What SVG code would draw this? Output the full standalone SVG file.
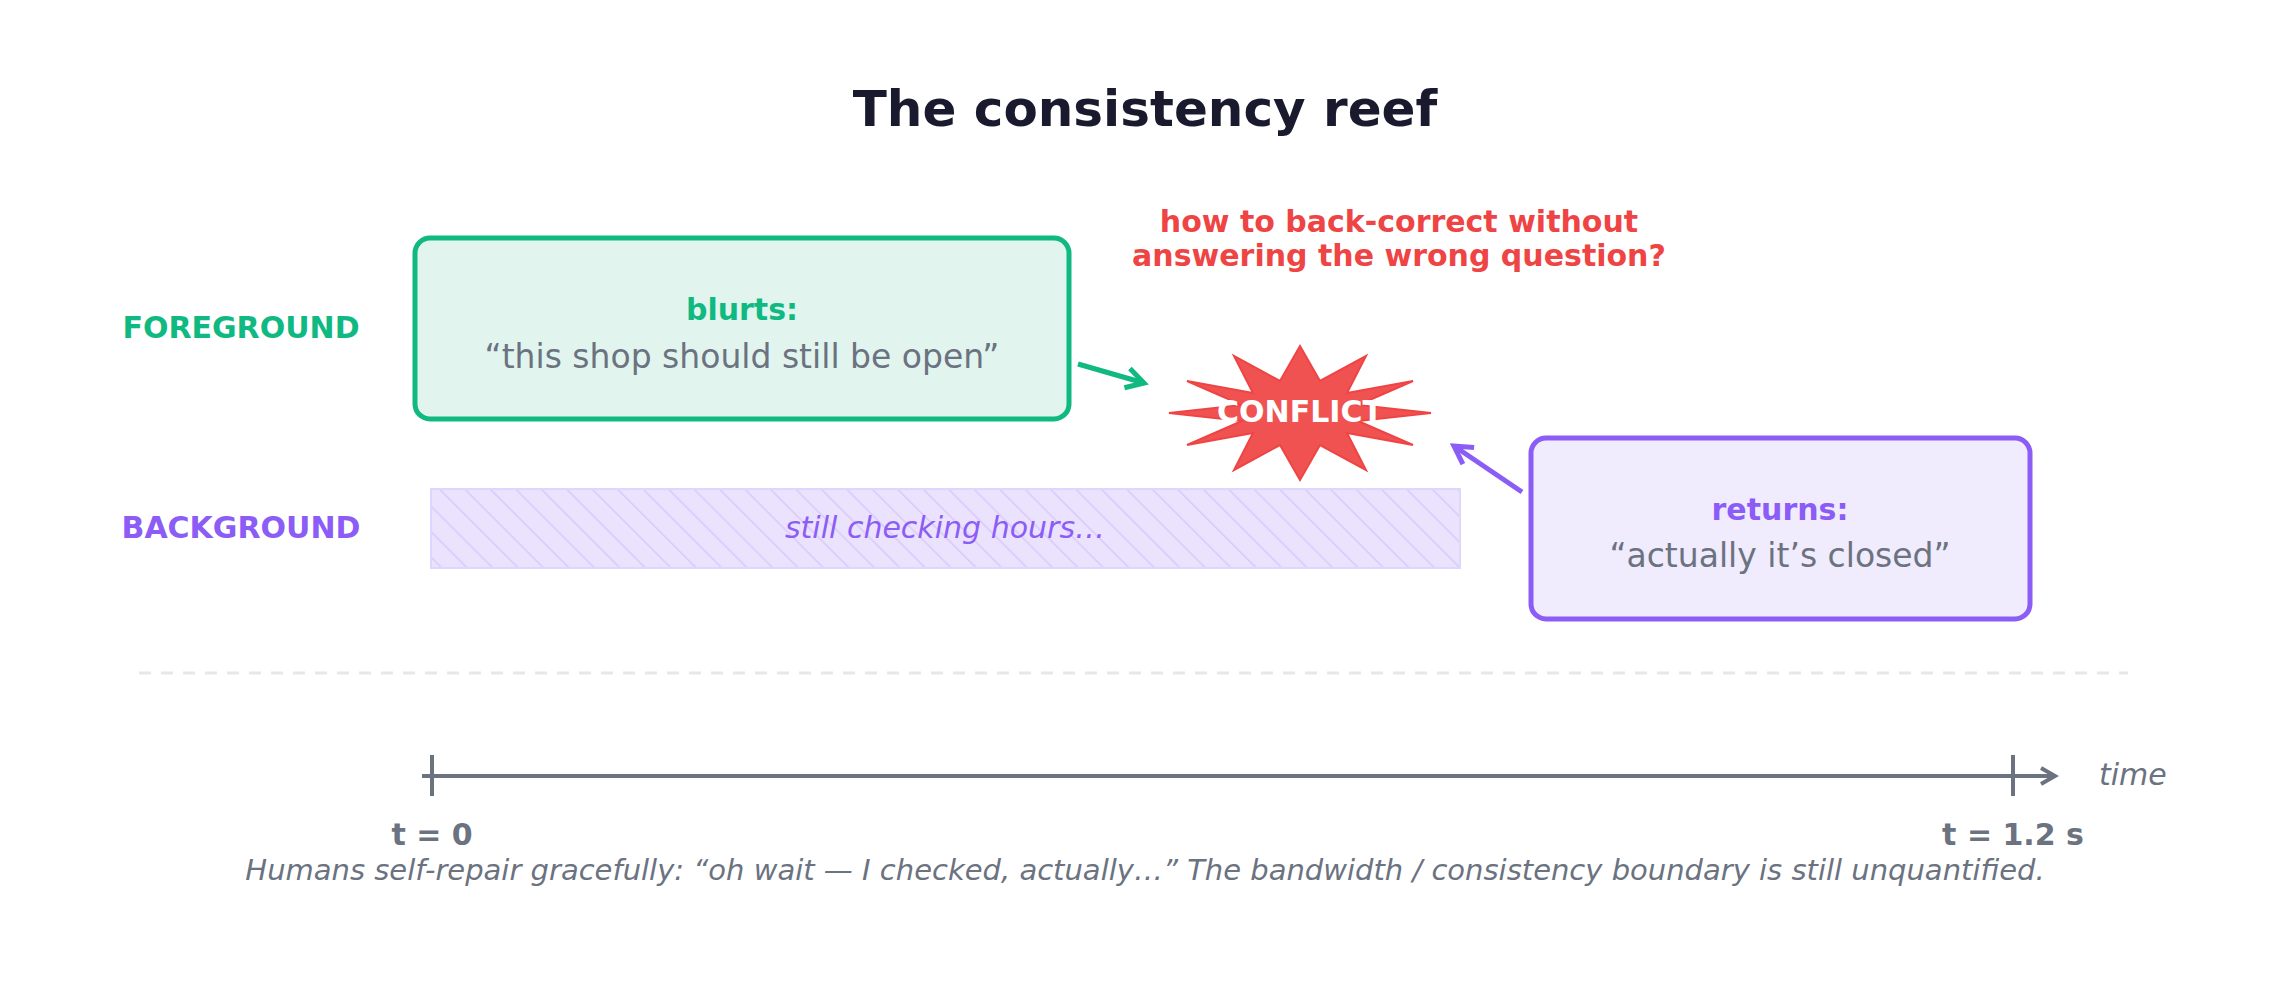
<svg xmlns="http://www.w3.org/2000/svg" width="2290" height="982" viewBox="0 0 2290 982">
<style>
text{font-family:"DejaVu Sans","Noto Sans",sans-serif;dominant-baseline:middle;text-anchor:middle}
.b{font-weight:bold}.i{font-style:italic}
</style>
<defs>
<pattern id="hatch" width="18" height="18" patternUnits="userSpaceOnUse" patternTransform="rotate(-45)">
<rect width="18" height="18" fill="#ebe2fd"/><line x1="0" y1="0" x2="0" y2="18" stroke="#d9c9fb" stroke-width="3"/>
</pattern>
<marker id="ag" viewBox="0 0 10 10" refX="8" refY="5" markerWidth="5" markerHeight="5" orient="auto"><path d="M1 1L8 5L1 9" fill="none" stroke="#10b981" stroke-width="2"/></marker>
<marker id="ap" viewBox="0 0 10 10" refX="8" refY="5" markerWidth="5" markerHeight="5" orient="auto"><path d="M1 1L8 5L1 9" fill="none" stroke="#8b5cf6" stroke-width="2"/></marker>
<marker id="ax" viewBox="0 0 10 10" refX="8" refY="5" markerWidth="5" markerHeight="5" orient="auto"><path d="M1 1L8 5L1 9" fill="none" stroke="#6b7280" stroke-width="2"/></marker>
</defs>
<rect width="2290" height="982" fill="#fff"/>
<text x="1145" y="112" class="b" font-size="50" fill="#1a1a2e">The consistency reef</text>
<text x="241" y="329" class="b" font-size="30" fill="#10b981">FOREGROUND</text>
<text x="241" y="529" class="b" font-size="30" fill="#8b5cf6">BACKGROUND</text>
<g id="foreground">
<rect x="415" y="238" width="654" height="181" rx="15" fill="#e1f5ee" stroke="#10b981" stroke-width="5"/>
<text x="742" y="311" class="b" font-size="30" fill="#10b981">blurts:</text>
<text x="742" y="358" font-size="33" fill="#6b7280">“this shop should still be open”</text>
</g>
<g id="background">
<rect x="431" y="489" width="1029" height="79" fill="url(#hatch)" stroke="#ddd6fe" stroke-width="2"/>
<text x="945" y="529" class="i" font-size="30" fill="#8b5cf6">still checking hours…</text>
</g>
<g id="conflict">
<polygon fill="#f05252" stroke="#ef4444" stroke-width="2" points="1300,346 1320,381 1366,356 1347,393 1413,381 1358,405 1431,413 1358,421 1413,445 1347,433 1366,470 1320,445 1300,480 1280,445 1234,470 1253,433 1187,445 1242,421 1169,413 1242,405 1187,381 1253,393 1234,356 1280,381"/>
<text x="1300" y="413" class="b" font-size="30" fill="#fff">CONFLICT</text>
</g>
<text x="1399" y="223" class="b" font-size="30" fill="#ef4444">how to back-correct without</text>
<text x="1399" y="257" class="b" font-size="30" fill="#ef4444">answering the wrong question?</text>
<g id="returns">
<rect x="1531" y="438" width="499" height="181" rx="15" fill="#f0ebfd" stroke="#8b5cf6" stroke-width="5"/>
<text x="1780" y="511" class="b" font-size="30" fill="#8b5cf6">returns:</text>
<text x="1780" y="557" font-size="33" fill="#6b7280">“actually it’s closed”</text>
</g>
<g id="connectors" fill="none" stroke-width="5">
<line x1="1078" y1="364" x2="1144" y2="383" stroke="#10b981" marker-end="url(#ag)"/>
<line x1="1522" y1="492" x2="1454" y2="446" stroke="#8b5cf6" marker-end="url(#ap)"/>
</g>
<line x1="139" y1="673" x2="2128" y2="673" stroke="#e5e7eb" stroke-width="3" stroke-dasharray="12 10"/>
<g id="axis" stroke="#6b7280" stroke-width="4">
<line x1="422" y1="776" x2="2055" y2="776" marker-end="url(#ax)"/>
<line x1="432" y1="755" x2="432" y2="796"/>
<line x1="2013" y1="755" x2="2013" y2="796"/>
</g>
<text x="2099" y="776" class="i" font-size="30" fill="#6b7280" style="text-anchor:start">time</text>
<text x="432" y="836" class="b" font-size="30" fill="#6b7280">t = 0</text>
<text x="2013" y="836" class="b" font-size="30" fill="#6b7280">t = 1.2 s</text>
<text x="1145" y="872" class="i" font-size="29" fill="#6b7280">Humans self-repair gracefully: “oh wait — I checked, actually…”    The bandwidth / consistency boundary is still unquantified.</text>
</svg>
